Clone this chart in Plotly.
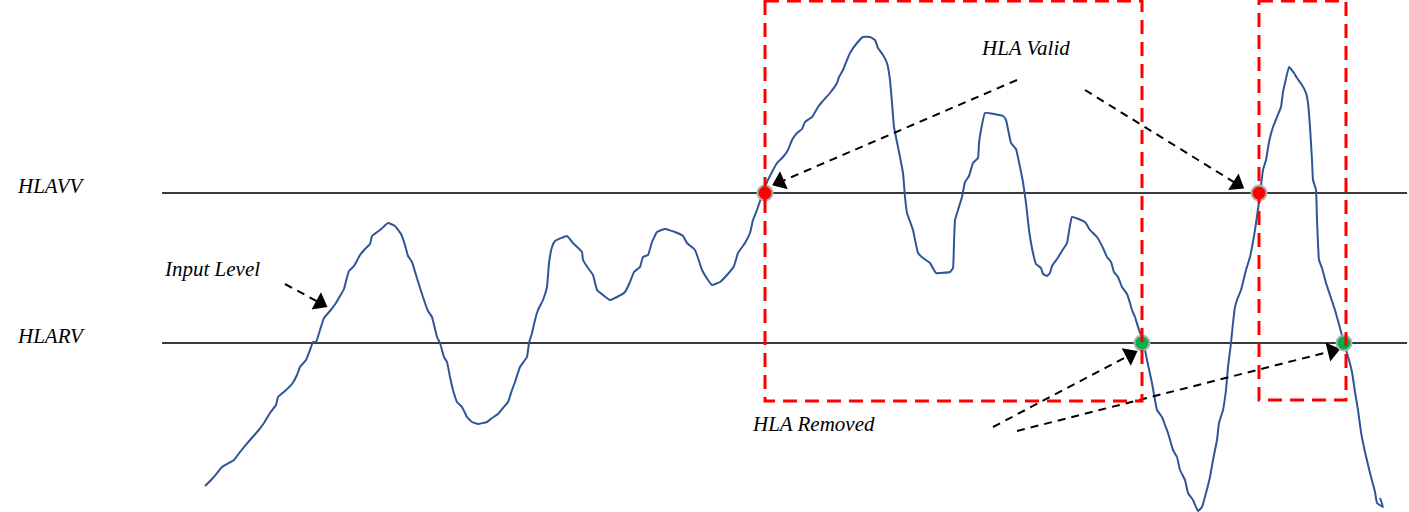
import plotly.graph_objects as go

# ---- Data (y axis is drawn top-down) ----
curve_x = [205, 213, 222, 227, 234, 240, 250, 258, 264, 270, 276, 278, 285, 292, 297, 300, 306, 310, 313, 316,
           320, 324, 330, 336, 340, 344, 346, 349, 354, 360, 365, 370, 372, 380, 388, 395, 401, 405, 408, 412,
           416, 421, 425, 428, 432, 437, 440, 444, 447, 450, 453, 457, 462, 467, 472, 478, 487, 492, 498, 503,
           508, 512, 515, 520, 527, 529, 532, 535, 538, 543, 547, 549, 552, 555, 567, 573, 582, 583, 588, 593,
           597, 603, 610, 617, 625, 630, 634, 640, 643, 648, 652, 657, 665, 675, 683, 687, 695, 698, 702, 708,
           712, 720, 727, 734, 738, 745, 750, 753, 757, 762, 767, 772, 777, 783, 788, 792, 797, 802, 805, 812,
           818, 822, 830, 837, 839, 843, 847, 850, 857, 863, 870, 875, 878, 883, 887, 890, 892, 894, 898, 903,
           905, 907, 913, 918, 923, 930, 936, 950, 953, 954, 955, 958, 962, 965, 969, 973, 978, 979, 981, 985,
           1003, 1006, 1011, 1016, 1020, 1023, 1026, 1029, 1033, 1036, 1041, 1043, 1047, 1050, 1052, 1057, 1062, 1067, 1072, 1085,
           1090, 1097, 1103, 1107, 1111, 1114, 1118, 1122, 1127, 1130, 1132, 1135, 1139, 1143, 1147, 1152, 1157, 1162, 1165, 1168,
           1173, 1177, 1180, 1185, 1188, 1193, 1198, 1202, 1206, 1210, 1213, 1217, 1219, 1223, 1226, 1228, 1231, 1233, 1235, 1237,
           1241, 1246, 1250, 1255, 1259, 1263, 1266, 1269, 1273, 1277, 1281, 1283, 1285, 1289, 1294, 1297, 1302, 1306, 1308, 1310,
           1312, 1313, 1316, 1317, 1319, 1322, 1326, 1330, 1335, 1340, 1344, 1349, 1352, 1355, 1358, 1361, 1365, 1370, 1375, 1377,
           1383, 1380]
curve_y = [486, 478, 467, 464, 460, 452, 440, 431, 423, 413, 405, 397, 391, 384, 375, 367, 360, 350, 342, 342,
           330, 318, 311, 303, 296, 289, 281, 271, 266, 255, 249, 244, 236, 230, 223, 226, 234, 245, 256, 262,
           275, 291, 303, 311, 317, 337, 343, 357, 362, 377, 390, 402, 407, 417, 422, 424, 422, 418, 414, 408,
           402, 390, 382, 367, 357, 343, 333, 320, 310, 300, 287, 263, 247, 241, 236, 243, 252, 260, 268, 275,
           290, 295, 300, 297, 292, 282, 272, 267, 257, 255, 242, 232, 229, 232, 236, 243, 250, 258, 270, 280,
           285, 282, 275, 266, 253, 243, 233, 220, 210, 195, 182, 172, 163, 157, 150, 140, 133, 129, 122, 117,
           107, 102, 93, 83, 77, 70, 60, 53, 43, 37, 37, 40, 48, 55, 63, 80, 103, 127, 147, 173,
           197, 213, 230, 253, 258, 263, 273, 272, 268, 243, 220, 210, 197, 182, 176, 163, 158, 143, 130, 113,
           116, 120, 143, 149, 167, 182, 203, 230, 253, 264, 268, 274, 276, 273, 266, 259, 251, 243, 217, 222,
           230, 237, 248, 257, 262, 272, 277, 287, 294, 303, 310, 317, 330, 340, 360, 383, 410, 417, 425, 433,
           450, 457, 470, 480, 493, 500, 511, 507, 493, 477, 460, 440, 423, 410, 390, 367, 343, 323, 307, 300,
           290, 270, 257, 230, 202, 170, 160, 142, 127, 117, 107, 92, 83, 67, 73, 78, 85, 93, 103, 127,
           160, 180, 190, 220, 260, 268, 283, 295, 310, 328, 343, 360, 372, 392, 410, 432, 452, 473, 492, 503,
           507, 498]

level_names = ["HLAVV", "HLARV"]
level_values = [193, 343]
line_start_x = 162

# threshold events
valid_x = [765, 1259]
removed_x = [1142, 1344]

# dashed windows: [x0, x1, y0, y1]
windows = [[765, 1142, 1, 401], [1259, 1346, 1, 400]]

# labels
label_text = ["HLAVV", "HLARV", "Input Level", "HLA Valid", "HLA Removed"]
label_x = [15, 15, 162, 979, 750]
label_y = [186, 336, 269, 48, 424]

# dashed arrows: start -> end
arrow_x0 = [285, 1017, 1085, 993, 1017]
arrow_y0 = [284, 80, 90, 427, 431]
arrow_x1 = [320, 780, 1237, 1130, 1332]
arrow_y1 = [303, 182, 184, 355, 351]

# ---- Figure ----
fig = go.Figure()

for lv in level_values:
    fig.add_shape(type="line", x0=line_start_x, x1=1407, y0=lv, y1=lv,
                  line=dict(color="#3a3a3a", width=2), layer="below")

fig.add_trace(go.Scatter(x=curve_x, y=curve_y, mode="lines",
                         line=dict(color="#2f5597", width=2, shape="spline", smoothing=0.3),
                         hoverinfo="skip", showlegend=False))

for x0, y0, x1, y1 in zip(arrow_x0, arrow_y0, arrow_x1, arrow_y1):
    fig.add_trace(go.Scatter(x=[x0, x1], y=[y0, y1], mode="lines",
                             line=dict(color="black", width=2, dash="8px,6px"),
                             hoverinfo="skip", showlegend=False))
    fig.add_trace(go.Scatter(x=[x0, x1], y=[y0, y1], mode="markers",
                             marker=dict(symbol=["circle", "triangle-up"], size=[0, 17],
                                         color="#000000", opacity=1, angleref="previous",
                                         line=dict(width=0)),
                             hoverinfo="skip", showlegend=False))

fig.add_trace(go.Scatter(x=valid_x, y=[level_values[0]] * len(valid_x), mode="markers",
                         marker=dict(size=15, color="#ff0000", line=dict(color="#b0b0b0", width=2)),
                         hoverinfo="skip", showlegend=False))
fig.add_trace(go.Scatter(x=removed_x, y=[level_values[1]] * len(removed_x), mode="markers",
                         marker=dict(size=15, color="#00b050", line=dict(color="#b0b0b0", width=2)),
                         hoverinfo="skip", showlegend=False))

for x0, x1, y0, y1 in windows:
    fig.add_shape(type="rect", x0=x0, x1=x1, y0=y0, y1=y1,
                  line=dict(color="#ff0000", width=3, dash="14px,8px"),
                  fillcolor="rgba(0,0,0,0)", layer="above")

for t, x, y in zip(label_text, label_x, label_y):
    fig.add_annotation(x=x, y=y, text="<i>" + t + "</i>", showarrow=False,
                       xanchor="left", yanchor="middle",
                       font=dict(family="Liberation Serif, DejaVu Serif, serif", size=21, color="black"))

fig.update_layout(
    width=1409, height=512,
    margin=dict(l=0, r=0, t=0, b=0),
    paper_bgcolor="white", plot_bgcolor="white",
    xaxis=dict(range=[0, 1409], visible=False, fixedrange=True),
    yaxis=dict(range=[512, 0], visible=False, fixedrange=True),
    showlegend=False,
    hovermode=False,
)

fig.write_html("out.html", config={"displayModeBar": False, "staticPlot": True},
               post_script="document.body.style.margin='0';document.body.style.overflow='hidden';")
